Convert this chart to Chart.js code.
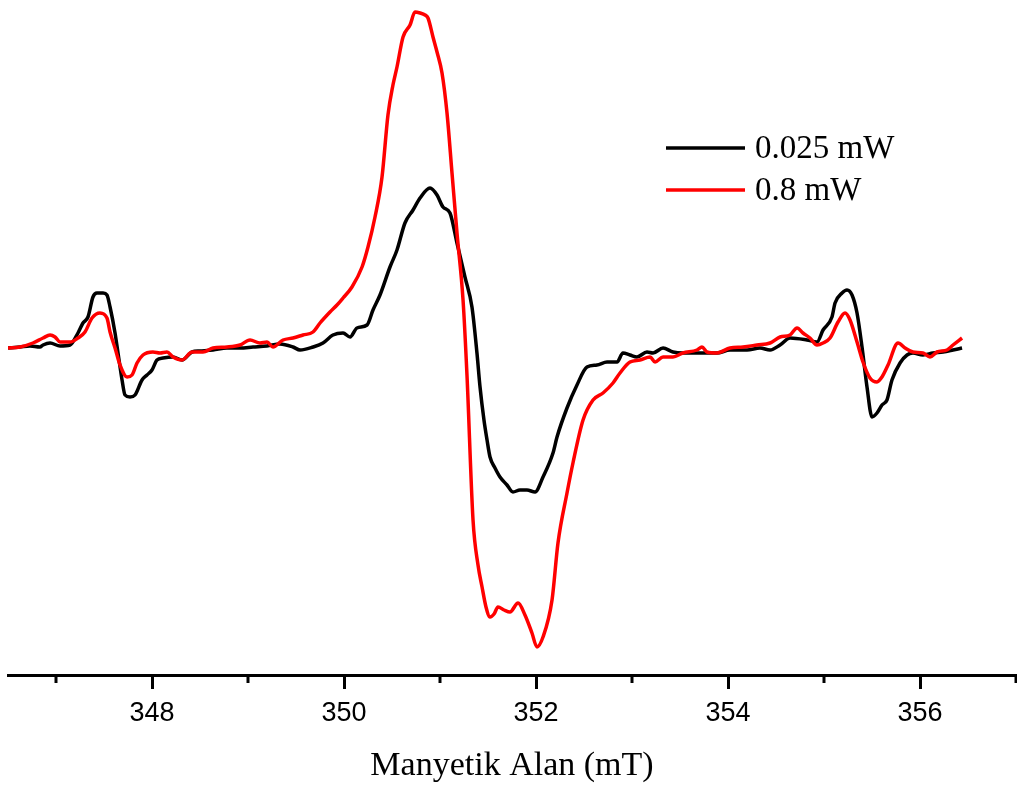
<!DOCTYPE html>
<html>
<head>
<meta charset="utf-8">
<script src="https://cdn.jsdelivr.net/npm/chart.js@4/dist/chart.umd.min.js"></script>
<style>
  html, body { margin: 0; padding: 0; background: #fff; }
  canvas { display: block; }
</style>
</head>
<body>
<canvas id="epr" width="1017" height="787"></canvas>
<script>
// ================= DATA =================

const seriesLabels = ["0.025 mW", "0.8 mW"];
const seriesColors = ["#000000", "#ff0000"];

const majorTicks = [348, 350, 352, 354, 356];
const minorTicks = [347, 349, 351, 353, 355, 357];

// 0.025 mW
const blackField = [
  346.500, 346.625, 346.729, 346.833, 346.865, 346.938, 347.042, 347.146, 347.229, 347.281,
  347.333, 347.385, 347.427, 347.490, 347.531, 347.563, 347.615, 347.646, 347.688, 347.719,
  347.771, 347.823, 347.896, 347.948, 348.000, 348.052, 348.115, 348.219, 348.313, 348.417,
  348.500, 348.635, 348.781, 348.917, 349.052, 349.198, 349.333, 349.469, 349.542, 349.677,
  349.781, 349.885, 349.990, 350.063, 350.135, 350.240, 350.302, 350.375, 350.479, 350.552,
  350.635, 350.719, 350.792, 350.896, 350.969, 351.031, 351.104, 351.177, 351.260, 351.333,
  351.385, 351.417, 351.458, 351.490, 351.521, 351.573, 351.625, 351.698, 351.760, 351.833,
  351.906, 351.990, 352.073, 352.177, 352.219, 352.323, 352.427, 352.531, 352.635, 352.740,
  352.844, 352.906, 352.979, 353.052, 353.156, 353.219, 353.323, 353.427, 353.531, 353.677,
  353.781, 353.885, 354.021, 354.198, 354.333, 354.438, 354.542, 354.646, 354.823, 354.927,
  354.990, 355.083, 355.115, 355.188, 355.240, 355.292, 355.344, 355.396, 355.448, 355.500,
  355.552, 355.604, 355.656, 355.708, 355.792, 355.865, 355.927, 356.031, 356.135, 356.240,
  356.344, 356.438
];
const blackSignal = [
  0, 1, 2, 1, 3, 5, 2, 3, 15, 25,
  31, 51, 55, 55, 53, 41, 15, -5, -32, -47,
  -49, -47, -32, -27, -22, -12, -10, -9, -12, -4,
  -3, -2, 0, 0, 1, 2, 4, 1, -2, 1,
  5, 13, 15, 11, 20, 23, 38, 53, 81, 98,
  125, 138, 150, 160, 153, 141, 135, 105, 71, 41,
  -5, -39, -72, -92, -109, -120, -129, -137, -144, -142,
  -142, -144, -129, -105, -89, -60, -37, -19, -17, -14,
  -14, -5, -7, -9, -4, -5, 0, -4, -5, -5,
  -5, -5, -2, -2, 0, -2, 3, 10, 8, 6,
  18, 31, 45, 55, 58, 53, 35, 1, -39, -69,
  -65, -57, -52, -32, -15, -7, -5, -7, -5, -4,
  -2, 0
];

// 0.8 mW
const redField = [
  346.500, 346.625, 346.760, 346.865, 346.938, 346.990, 347.042, 347.146, 347.229, 347.302,
  347.375, 347.458, 347.531, 347.563, 347.615, 347.667, 347.740, 347.792, 347.844, 347.906,
  348.010, 348.083, 348.156, 348.219, 348.313, 348.417, 348.531, 348.635, 348.781, 348.917,
  349.021, 349.125, 349.198, 349.260, 349.365, 349.469, 349.573, 349.677, 349.750, 349.854,
  349.927, 349.990, 350.083, 350.188, 350.250, 350.323, 350.396, 350.458, 350.510, 350.552,
  350.615, 350.688, 350.740, 350.792, 350.844, 350.875, 350.927, 350.969, 351.021, 351.073,
  351.125, 351.177, 351.240, 351.281, 351.344, 351.396, 351.438, 351.479, 351.521, 351.563,
  351.604, 351.667, 351.729, 351.813, 351.885, 351.958, 352.010, 352.073, 352.167, 352.229,
  352.323, 352.385, 352.490, 352.594, 352.698, 352.802, 352.875, 352.979, 353.083, 353.188,
  353.240, 353.323, 353.427, 353.531, 353.677, 353.729, 353.781, 353.885, 354.021, 354.156,
  354.302, 354.438, 354.542, 354.646, 354.719, 354.781, 354.854, 354.927, 354.990, 355.063,
  355.146, 355.219, 355.271, 355.344, 355.406, 355.479, 355.552, 355.604, 355.667, 355.771,
  355.844, 355.927, 356.031, 356.104, 356.177, 356.281, 356.344, 356.438
];
const redSignal = [
  0, 1, 5, 10, 13, 11, 6, 6, 10, 16,
  30, 35, 30, 16, 0, -17, -29, -27, -15, -7,
  -4, -5, -4, -9, -12, -4, -4, 0, 1, 3,
  8, 5, 6, 1, 8, 10, 13, 16, 25, 36,
  43, 50, 61, 81, 101, 131, 171, 233, 263, 281,
  311, 323, 336, 335, 333, 330, 311, 296, 275, 235,
  175, 115, 48, -27, -172, -217, -239, -259, -269, -266,
  -259, -262, -264, -255, -267, -285, -299, -289, -252, -195,
  -145, -115, -72, -52, -45, -35, -25, -14, -12, -9,
  -14, -9, -9, -5, -2, 1, -4, -5, 0, 1,
  3, 5, 11, 13, 20, 15, 10, 3, 5, 10,
  26, 35, 28, 6, -14, -30, -34, -29, -17, 5,
  0, -4, -5, -9, -4, -2, 3, 10
];

// ================= HELPERS =================

function toPoints(xs, ys) {
  return xs.map((x, i) => ({ x: x, y: ys[i] }));
}

// minor ticks + legend drawn through the chart's own scales
const extrasPlugin = {
  id: "extras",
  afterDraw(chart) {
    const ctx = chart.ctx;
    const xs = chart.scales.x;
    const top = chart.chartArea.bottom;

    ctx.save();
    ctx.strokeStyle = "#000";
    ctx.lineWidth = 3;
    minorTicks.forEach(v => {
      const px = xs.getPixelForValue(v);
      ctx.beginPath();
      ctx.moveTo(px, top);
      ctx.lineTo(px, top + 8);
      ctx.stroke();
    });

    // legend
    ctx.font = "33px 'Liberation Serif', 'Times New Roman', serif";
    ctx.textBaseline = "middle";
    ctx.textAlign = "left";
    const rows = [148, 190];
    seriesLabels.forEach((lbl, i) => {
      ctx.strokeStyle = seriesColors[i];
      ctx.lineWidth = 3.5;
      ctx.beginPath();
      ctx.moveTo(666, rows[i]);
      ctx.lineTo(745, rows[i]);
      ctx.stroke();
      ctx.fillStyle = "#000";
      ctx.fillText(lbl, 755, rows[i] + 1);
    });
    ctx.restore();
  }
};

// ================= CHART =================

new Chart(document.getElementById("epr"), {
  type: "line",
  data: {
    datasets: [
      {
        label: seriesLabels[0],
        data: toPoints(blackField, blackSignal),
        borderColor: seriesColors[0],
        borderWidth: 3.5,
        pointRadius: 0,
        cubicInterpolationMode: "monotone",
        order: 1
      },
      {
        label: seriesLabels[1],
        data: toPoints(redField, redSignal),
        borderColor: seriesColors[1],
        borderWidth: 3.5,
        pointRadius: 0,
        cubicInterpolationMode: "monotone",
        order: 0
      }
    ]
  },
  options: {
    responsive: false,
    animation: false,
    layout: { padding: { left: 8, right: 1, top: 0, bottom: 0 } },
    plugins: {
      legend: { display: false },
      tooltip: { enabled: false }
    },
    scales: {
      x: {
        type: "linear",
        min: 346.5,
        max: 357,
        afterBuildTicks: s => { s.ticks = majorTicks.map(v => ({ value: v })); },
        afterFit: s => { s.height = 112; },
        border: { display: true, color: "#000", width: 3 },
        grid: {
          drawOnChartArea: false,
          tickLength: 14,
          tickWidth: 3,
          tickColor: "#000"
        },
        ticks: {
          padding: 8,
          color: "#000",
          maxRotation: 0,
          autoSkip: false,
          font: { family: "'Liberation Sans', Arial, sans-serif", size: 27 },
          callback: v => String(v)
        },
        title: {
          display: true,
          text: "Manyetik Alan (mT)",
          color: "#000",
          padding: { top: 0, bottom: 1 },
          font: { family: "'Liberation Serif', 'Times New Roman', serif", size: 34 }
        }
      },
      y: {
        display: false,
        min: -327,
        max: 348
      }
    }
  },
  plugins: [extrasPlugin]
});
</script>
</body>
</html>
